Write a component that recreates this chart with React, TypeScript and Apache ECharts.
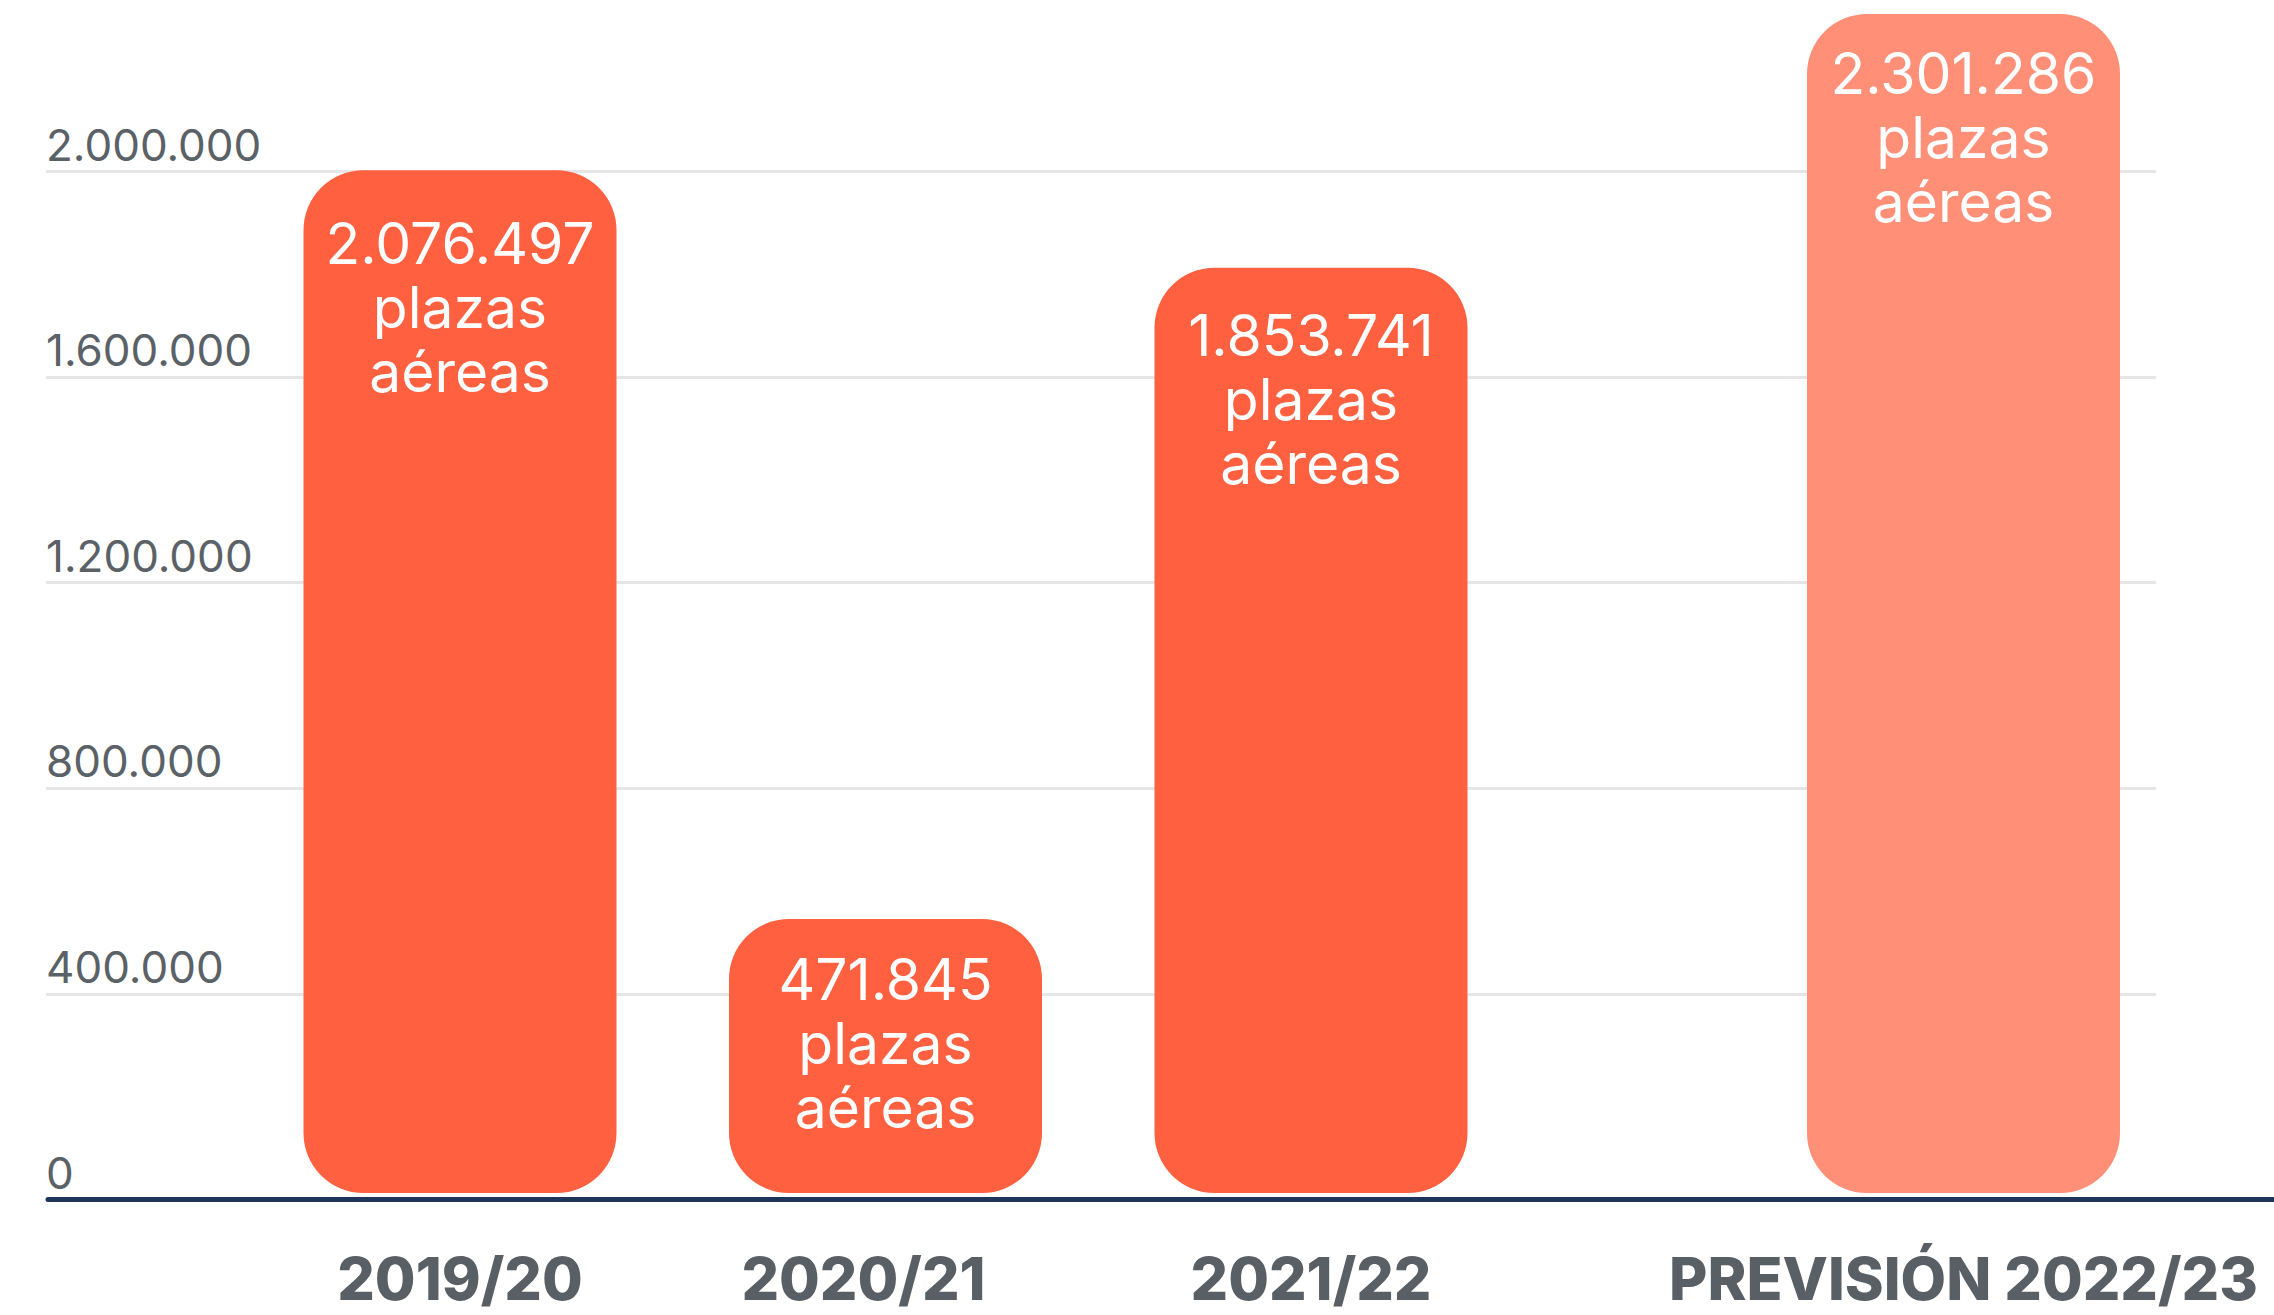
import React, { useEffect, useRef } from "react";
import * as echarts from "echarts";

// Categorías (temporadas)
const categorias = ["2019/20", "2020/21", "2021/22", "PREVISIÓN 2022/23"];
// Plazas aéreas indicadas en cada barra
const plazasAereas = [2076497, 471845, 1853741, 2301286];
// Altura con la que cada barra aparece dibujada en el gráfico original
const alturaBarras = [1990000, 533000, 1800000, 2294000];
// Escala del eje vertical
const ejeMin = 0;
const ejeMax = 2000000;
const ejeIntervalo = 400000;

const fmt = (n: number) => String(n).replace(/\B(?=(\d{3})+(?!\d))/g, ".");

export default function App() {
  const ref = useRef<HTMLDivElement>(null);

  useEffect(() => {
    if (!ref.current) return;
    const chart = echarts.init(ref.current, null, { renderer: "svg" });

    const font = "Inter, 'Noto Sans', sans-serif";
    // per-bar label offset from the top of each bar (layout only)
    const labelDistance = [41, 28, 36, 28];
    // per-category horizontal nudge of the axis label (layout only)
    const xLabelPadRight = [0, 44, 0, 0];

    const xLabel = {
      interval: 0,
      margin: 56,
      fontSize: 59,
      lineHeight: 59,
      fontWeight: 800,
      fontFamily: font,
      color: "#585F65",
    };
    const barLabel = {
      show: true,
      position: "insideTop",
      color: "#FFFFFF",
      fontSize: 57,
      lineHeight: 64,
      fontFamily: font,
      fontWeight: 400,
    };

    const catData = (from: number, to: number) =>
      categorias.slice(from, to).map((c, k) => ({
        value: c,
        textStyle: { padding: [0, xLabelPadRight[from + k], 0, 0] },
      }));

    const barData = (from: number, to: number) =>
      alturaBarras.slice(from, to).map((v, k) => ({
        value: v,
        label: {
          distance: labelDistance[from + k],
          formatter: `${fmt(plazasAereas[from + k])}\nplazas\naéreas`,
        },
      }));

    const option = {
      animation: false,
      backgroundColor: "#FFFFFF",
      textStyle: { fontFamily: font },
      grid: [
        { left: 46, right: 118, top: 171.5, bottom: 115.5 },
        { left: 48, right: 0, top: 171.5, bottom: 115.5 },
        { left: 247.25, right: 750.25, top: 165, bottom: 122 },
        { left: 1750.75, right: 97.75, top: 165, bottom: 122 },
      ],
      xAxis: [
        { gridIndex: 0, type: "value", show: false },
        {
          gridIndex: 1,
          type: "value",
          min: 0,
          max: 1,
          axisLine: { show: true, onZero: false, lineStyle: { color: "#1F3459", width: 5 } },
          axisTick: { show: false },
          axisLabel: { show: false },
          splitLine: { show: false },
        },
        {
          gridIndex: 2,
          type: "category",
          data: catData(0, 3),
          axisLine: { show: false },
          axisTick: { show: false },
          axisLabel: xLabel,
        },
        {
          gridIndex: 3,
          type: "category",
          data: catData(3, 4),
          axisLine: { show: false },
          axisTick: { show: false },
          axisLabel: xLabel,
        },
      ],
      yAxis: [
        {
          gridIndex: 0,
          type: "value",
          min: ejeMin,
          max: ejeMax,
          interval: ejeIntervalo,
          axisLine: { show: false },
          axisTick: { show: false },
          splitLine: { show: true, lineStyle: { color: "#E6E6E6", width: 3 } },
          axisLabel: {
            inside: true,
            margin: 0,
            align: "left",
            verticalAlign: "bottom",
            padding: [0, 0, 5, 0],
            fontSize: 44,
            lineHeight: 44,
            fontFamily: font,
            color: "#5A6167",
            formatter: (v: number) => fmt(v),
          },
        },
        { gridIndex: 1, type: "value", min: 0, max: 1, show: false },
        { gridIndex: 2, type: "value", min: ejeMin, max: ejeMax, show: false },
        { gridIndex: 3, type: "value", min: ejeMin, max: ejeMax, show: false },
      ],
      series: [
        {
          type: "bar",
          xAxisIndex: 2,
          yAxisIndex: 2,
          data: barData(0, 3),
          barWidth: 313,
          clip: false,
          itemStyle: { color: "#FF6040", borderRadius: 60 },
          label: barLabel,
        },
        {
          type: "bar",
          xAxisIndex: 3,
          yAxisIndex: 3,
          data: barData(3, 4),
          barWidth: 313,
          clip: false,
          itemStyle: { color: "#FF8F77", borderRadius: 60 },
          label: barLabel,
        },
      ],
    };

    chart.setOption(option as any);
    return () => chart.dispose();
  }, []);

  return (
    <div
      ref={ref}
      style={{ position: "absolute", left: 0, top: 0, width: 2274, height: 1315 }}
    />
  );
}
